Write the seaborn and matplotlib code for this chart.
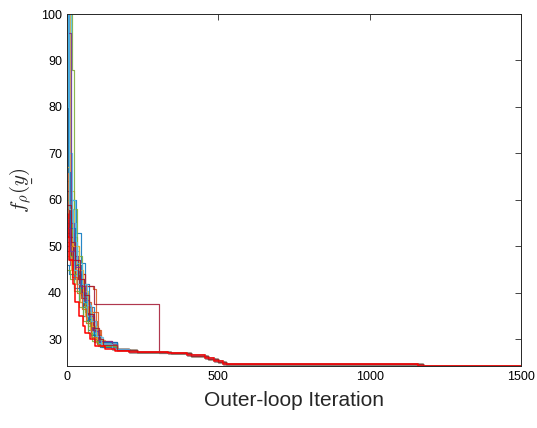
import matplotlib
matplotlib.use("Agg")
import matplotlib.pyplot as plt
import seaborn as sns
import pandas as pd

# ---- data: (iteration, best objective) breakpoints of each run ----
run01 = [(0, 60), (30, 53), (46, 46.5), (58, 42), (72, 37), (88, 33), (103, 30), (115, 28.5)]
run02 = [(0, 96), (3, 52), (18, 47), (35, 44), (60, 41.5), (86, 40.8), (95, 36), (102, 32), (112, 29.2)]
run03 = [(0, 104), (10, 62), (22, 50), (40, 42), (55, 37), (70, 33), (90, 30), (120, 28.3)]
run04 = [(0, 104), (6, 57), (14, 50), (25, 44), (45, 39), (62, 35), (80, 31), (100, 29)]
run05 = [(0, 104), (16, 88), (22, 58), (34, 48), (50, 40), (68, 35), (85, 31), (105, 28.8)]
run06 = [(0, 104), (12, 60), (26, 49), (40, 43), (58, 38), (75, 34), (95, 30.5), (118, 28.5)]
run07 = [(0, 49), (12, 46), (30, 44), (60, 41.6), (89, 37.6), (304, 27.2)]
run08 = [(0, 55), (5, 50), (20, 45), (38, 41), (52, 37), (66, 34), (80, 31), (98, 29.2), (125, 28.4)]
run09 = [(0, 64), (8, 53), (24, 46), (42, 42), (64, 38), (78, 36), (96, 32), (108, 29.5), (130, 28.5)]
run10 = [(0, 72), (6, 56), (18, 49), (30, 44), (48, 39), (66, 34.5), (82, 31.5), (100, 29.8), (125, 28.5)]
run11 = [(0, 50), (10, 46), (28, 43), (46, 39.5), (62, 36), (78, 32), (92, 29.5), (115, 28.4)]
run12 = [(0, 60), (15, 52), (32, 46), (48, 40), (64, 36), (82, 32.5), (100, 30), (118, 28.7)]
run13 = [(0, 104), (5, 70), (15, 55), (30, 47), (44, 42), (60, 37), (76, 33), (94, 30), (112, 28.6)]
run14 = [(0, 53), (12, 48), (26, 44), (40, 41), (56, 37.5), (72, 34), (90, 31), (108, 29.2)]
run15 = [(0, 46), (8, 44), (22, 41), (38, 38), (54, 35), (70, 32), (88, 29.5), (110, 28.4)]
run16 = [(0, 58), (10, 50), (24, 45), (36, 43), (56, 40), (70, 37), (84, 34), (100, 31), (112, 29.3)]
run17 = [(0, 48), (14, 45), (30, 42), (44, 38), (58, 35), (76, 32), (96, 29.5)]
run18 = [(0, 104), (4, 96), (12, 55), (22, 48), (36, 44), (50, 40), (66, 36), (84, 32), (104, 29.5)]
run19 = [(0, 52), (10, 48), (24, 44), (42, 40), (60, 36), (76, 33), (92, 30), (110, 28.6)]
run20 = [(0, 56), (9, 49), (22, 45), (34, 42), (52, 38), (66, 35), (86, 31.5), (104, 29.2)]
run21 = [(0, 62), (8, 52), (20, 47), (36, 43), (50, 39), (68, 35.5), (86, 32), (100, 29.6)]
run22 = [(0, 104), (3, 66), (10, 54), (28, 46), (46, 41), (60, 38), (74, 34.5), (90, 31), (106, 29.4)]
run23 = [(0, 51), (6, 47), (18, 43.5), (34, 40), (50, 36.5), (64, 33.5), (80, 30.5), (98, 29)]
run24 = [(0, 67), (7, 58), (20, 50), (38, 45), (54, 40.5), (70, 36), (84, 33), (100, 30.2), (115, 28.8)]
run25 = [(0, 54), (11, 49), (26, 45.5), (44, 41.5), (58, 38.5), (72, 35), (88, 31.8), (104, 29.6)]
run26 = [(0, 45), (9, 43), (24, 40.5), (40, 37), (54, 34), (68, 31.5), (84, 29.6), (102, 28.6)]
run27 = [(0, 104), (2, 80), (8, 58), (20, 51), (32, 46.5), (50, 42), (66, 37.5), (80, 34), (96, 30.8), (112, 29)]
run28 = [(0, 59), (13, 51), (28, 47), (42, 43), (56, 39.5), (74, 35.5), (90, 32.5), (106, 30), (120, 28.8)]
run_red = [(0, 57), (4, 52), (8, 47), (20, 42), (26, 38), (40, 35), (52, 33), (60, 31.5), (75, 30),
           (92, 28.5), (125, 28), (160, 27.5)]

tail_a = [(150, 28.0), (205, 27.4), (335, 27.1), (395, 26.6), (455, 26.1), (485, 25.4), (515, 24.8),
          (1160, 24.4), (1500, 24.4)]
tail_b = [(165, 27.8), (230, 27.3), (345, 27.0), (410, 26.5), (465, 25.9), (500, 25.2), (525, 24.8),
          (1175, 24.4), (1500, 24.4)]

runs = [run01, run02, run03, run04, run05, run06, run07, run08, run09, run10, run11,
        run12, run13, run14, run15, run16, run17, run18, run19, run20, run21,
        run22, run23, run24, run25, run26, run27, run28, run_red]

matlab_colors = ["#0072BD", "#D95319", "#EDB120", "#7E2F8E", "#77AC30", "#4DBEEE", "#A2142F"]

rows = []
for k, run in enumerate(runs):
    tail = tail_a if k % 2 == 0 else tail_b
    last = run[-1][0]
    pts = run + [p for p in tail if p[0] > last]
    for it, v in pts:
        rows.append({"run": f"r{k:02d}", "iter": it, "val": v})
df = pd.DataFrame(rows)

n = len(runs)
palette = {f"r{k:02d}": matlab_colors[k % 7] for k in range(n)}
palette[f"r{n-1:02d}"] = "#FF0000"

sns.set_style("white")
plt.rcParams["font.family"] = ["Liberation Sans", "DejaVu Sans"]
plt.rcParams["mathtext.fontset"] = "cm"

fig = plt.figure(figsize=(5.37, 4.28), dpi=100)
ax = fig.add_axes([67/537, 1 - 366/428, (521-67)/537, (366-14)/428])

for k in range(n):
    name = f"r{k:02d}"
    sub = df[df["run"] == name]
    last = k == n - 1
    sns.lineplot(data=sub, x="iter", y="val", color=palette[name], drawstyle="steps-post",
                 estimator=None, sort=False, legend=False, ax=ax,
                 lw=1.1 if last else 0.85, alpha=1.0 if last else 0.85)

ax.set_xlim(0, 1500)
ax.set_ylim(24.3, 100)
ax.set_xticks([0, 500, 1000, 1500])
ax.set_yticks([30, 40, 50, 60, 70, 80, 90, 100])
ax.tick_params(direction="in", length=4, width=0.6, labelsize=9, top=True, right=True,
               colors="#262626", labelcolor="black")
for s in ax.spines.values():
    s.set_visible(True)
    s.set_color("#262626")
    s.set_linewidth(0.7)
ax.set_xlabel("Outer-loop Iteration", fontsize=15, labelpad=6)
ax.set_ylabel(r"$f_\rho(\underset{\_}{y})$", fontsize=15, labelpad=4)

fig.savefig("out.png", dpi=100)
